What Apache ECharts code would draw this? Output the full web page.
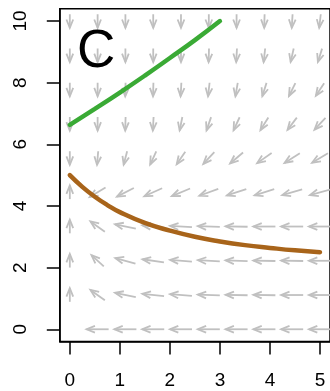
<!DOCTYPE html>
<html><head><meta charset="utf-8">
<script src="https://cdn.jsdelivr.net/npm/echarts@6/dist/echarts.min.js"></script>
<style>html,body{margin:0;padding:0;background:#fff}#c{width:330px;height:391px}</style>
</head><body><div id="c"></div>
<script>
// ---- data ----
const xTicks = [0, 1, 2, 3, 4, 5];
const yTicks = [0, 2, 4, 6, 8, 10];
const fieldX = [0, 0.556, 1.111, 1.667, 2.222, 2.778, 3.333, 3.889, 4.444, 5];
const fieldY = [0, 1.111, 2.222, 3.333, 4.444, 5.556, 6.667, 7.778, 8.889, 10];
// flow direction (degrees, data space), one row per fieldY value (bottom to top); null = no arrow
const arrowRow0 = [null, 180, 180, 180, 180, 180, 180, 180, 180, 180];
const arrowRow1 = [90, 131, 161, 170, 173, 177, 178, 178, 180, 180];
const arrowRow2 = [90, 124, 156, 167, 172, 175, 177, 178, 178, 180];
const arrowRow3 = [90, 131, 161, 170, 175, 177, 178, 180, 180, 180];
const arrowRow4 = [90, 224, 220, 216, 214, 211, 208, 207, 205, 204];
const arrowRow5 = [270, 267, 261, 254, 247, 240, 234, 229, 226, 224];
const arrowRow6 = [270, 270, 269, 268, 263, 258, 254, 249, 245, 240];
const arrowRow7 = [270, 270, 269, 269, 268, 266, 264, 259, 253, 248];
const arrowRow8 = [270, 270, 270, 270, 270, 269, 268, 266, 262, 259];
const arrowRow9 = [270, 270, 270, 270, 270, 270, 270, 269, 268, 266];
const arrowRows = [arrowRow0, arrowRow1, arrowRow2, arrowRow3, arrowRow4, arrowRow5, arrowRow6, arrowRow7, arrowRow8, arrowRow9];
const greenX = [0, 0.5, 1, 1.5, 2, 2.5, 3];
const greenY = [6.63, 7.15, 7.68, 8.23, 8.80, 9.38, 10.0];
const brownX = [0, 0.25, 0.5, 0.75, 1, 1.5, 2, 2.5, 3, 3.5, 4, 4.5, 5];
const brownY = [5.0, 4.62, 4.30, 4.03, 3.80, 3.45, 3.20, 3.00, 2.85, 2.73, 2.64, 2.56, 2.50];
const panelLabel = 'C';

// ---- build ----
const FONT = '"Liberation Sans", Arial, Helvetica, sans-serif';
const ARROW_LEN = 0.44;
const arrowData = [];
fieldY.forEach((y, j) => fieldX.forEach((x, i) => {
  const a = arrowRows[j][i];
  if (a !== null) arrowData.push([x, y, a]);
}));
const zip = (xs, ys) => xs.map((x, i) => [x, ys[i]]);

const chart = echarts.init(document.getElementById('c'), null, {renderer: 'canvas'});
chart.setOption({
  animation: false,
  backgroundColor: '#fff',
  grid: {left: 59.8, top: 8.7, width: 275.4, height: 332.9, show: true, borderColor: '#000', borderWidth: 1.5, backgroundColor: 'transparent'},
  xAxis: {
    type: 'value', min: -0.2, max: 5.2,
    axisLine: {show: true, onZero: false, lineStyle: {color: '#000', width: 1.5}},
    axisTick: {show: true, length: 13, lineStyle: {color: '#000', width: 1.5}, customValues: xTicks},
    axisLabel: {customValues: xTicks, color: '#000', fontSize: 19, fontFamily: FONT, margin: 30},
    splitLine: {show: false}
  },
  yAxis: {
    type: 'value', min: -0.4, max: 10.4,
    axisLine: {show: true, onZero: false, lineStyle: {color: '#000', width: 1.5}},
    axisTick: {show: true, length: 13, lineStyle: {color: '#000', width: 1.5}, customValues: yTicks},
    axisLabel: {customValues: yTicks, color: '#000', fontSize: 19, fontFamily: FONT, margin: 29.5, rotate: 90},
    splitLine: {show: false}
  },
  graphic: [{
    type: 'text', left: 77, top: 26, z: 100,
    style: {text: panelLabel, fill: '#000', font: '53px ' + FONT}
  }],
  series: [
    {
      type: 'custom', data: arrowData, z: 1, silent: true,
      renderItem: function (params, api) {
        const x = api.value(0), y = api.value(1), a = api.value(2) * Math.PI / 180;
        const h = ARROW_LEN / 2;
        const p0 = api.coord([x - h * Math.cos(a), y - h * Math.sin(a)]);
        const p1 = api.coord([x + h * Math.cos(a), y + h * Math.sin(a)]);
        const ang = Math.atan2(p1[1] - p0[1], p1[0] - p0[0]);
        const hl = 9, ha = 22 * Math.PI / 180;
        const b1 = [p1[0] - hl * Math.cos(ang - ha), p1[1] - hl * Math.sin(ang - ha)];
        const b2 = [p1[0] - hl * Math.cos(ang + ha), p1[1] - hl * Math.sin(ang + ha)];
        return {type: 'group', children: [
          {type: 'line', shape: {x1: p0[0], y1: p0[1], x2: p1[0], y2: p1[1]}, style: {stroke: '#c0c0c0', lineWidth: 1.8}},
          {type: 'polyline', shape: {points: [b1, p1, b2]}, style: {stroke: '#c0c0c0', lineWidth: 1.8, fill: null}}
        ]};
      }
    },
    {
      type: 'line', data: zip(greenX, greenY), smooth: true, symbol: 'none', z: 5,
      lineStyle: {color: '#3aaa35', width: 4.5, cap: 'round'}
    },
    {
      type: 'line', data: zip(brownX, brownY), smooth: true, symbol: 'none', z: 5,
      lineStyle: {color: '#a8641a', width: 4.5, cap: 'round'}
    }
  ]
});
</script>
</body></html>
